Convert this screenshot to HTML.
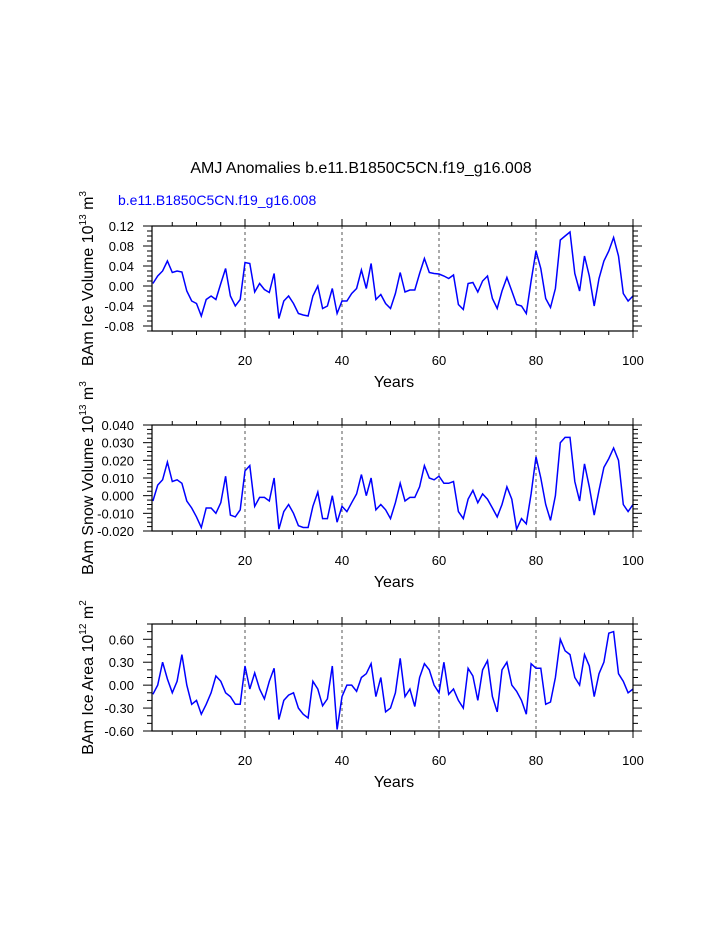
<!DOCTYPE html>
<html><head><meta charset="utf-8"><style>body{margin:0;background:#fff}svg{display:block;font-family:"Liberation Sans",sans-serif}</style></head>
<body>
<svg id="c" width="723" height="935" viewBox="0 0 723 935">
<text x="361" y="173" font-size="16" text-anchor="middle">AMJ Anomalies b.e11.B1850C5CN.f19_g16.008</text>
<text x="118" y="205" font-size="14" fill="#0000ff">b.e11.B1850C5CN.f19_g16.008</text>
</svg>
<script>
const years=[];for(let i=1;i<=100;i++)years.push(i);
const iceVolume=[0.005,0.02,0.03,0.05,0.027,0.03,0.028,-0.01,-0.03,-0.035,-0.06,-0.027,-0.02,-0.027,0.005,0.035,-0.02,-0.04,-0.027,0.047,0.045,-0.012,0.005,-0.007,-0.013,0.025,-0.065,-0.03,-0.02,-0.035,-0.055,-0.058,-0.06,-0.02,0.0,-0.045,-0.04,-0.005,-0.055,-0.03,-0.03,-0.015,-0.005,0.032,-0.005,0.045,-0.027,-0.017,-0.035,-0.045,-0.015,0.027,-0.012,-0.008,-0.008,0.025,0.055,0.027,0.025,0.024,0.02,0.015,0.022,-0.037,-0.047,0.005,0.007,-0.012,0.01,0.02,-0.025,-0.045,-0.01,0.017,-0.01,-0.037,-0.04,-0.055,0.01,0.07,0.035,-0.025,-0.043,-0.005,0.092,0.1,0.108,0.025,-0.01,0.06,0.02,-0.04,0.015,0.05,0.07,0.097,0.06,-0.015,-0.03,-0.02];
const snowVolume=[-0.003,0.006,0.009,0.019,0.008,0.009,0.007,-0.003,-0.007,-0.012,-0.018,-0.007,-0.007,-0.01,-0.004,0.011,-0.011,-0.012,-0.008,0.014,0.017,-0.006,-0.001,-0.001,-0.003,0.01,-0.019,-0.009,-0.005,-0.01,-0.017,-0.018,-0.018,-0.006,0.002,-0.013,-0.013,0.0,-0.015,-0.006,-0.009,-0.004,0.001,0.012,0.0,0.01,-0.008,-0.005,-0.008,-0.013,-0.004,0.007,-0.003,-0.001,-0.001,0.005,0.017,0.01,0.009,0.011,0.007,0.007,0.008,-0.009,-0.013,-0.002,0.003,-0.004,0.001,-0.002,-0.007,-0.012,-0.005,0.005,-0.002,-0.019,-0.013,-0.016,0.001,0.022,0.01,-0.005,-0.014,0.0,0.03,0.033,0.033,0.008,-0.003,0.018,0.005,-0.011,0.003,0.016,0.021,0.027,0.02,-0.005,-0.009,-0.005];
const iceArea=[-0.12,0.0,0.3,0.08,-0.1,0.05,0.4,0.0,-0.25,-0.2,-0.38,-0.25,-0.1,0.12,0.05,-0.1,-0.15,-0.25,-0.25,0.25,-0.05,0.16,-0.05,-0.18,0.05,0.22,-0.45,-0.2,-0.13,-0.1,-0.3,-0.38,-0.43,0.05,-0.05,-0.27,-0.18,0.25,-0.58,-0.15,0.0,0.0,-0.08,0.1,0.15,0.28,-0.15,0.1,-0.35,-0.3,-0.1,0.35,-0.15,-0.05,-0.28,0.1,0.28,0.2,0.0,-0.1,0.3,-0.12,-0.05,-0.2,-0.3,0.22,0.12,-0.2,0.2,0.32,-0.15,-0.35,0.2,0.3,0.0,-0.08,-0.2,-0.38,0.28,0.22,0.22,-0.25,-0.22,0.1,0.6,0.45,0.4,0.1,0.0,0.4,0.25,-0.15,0.15,0.3,0.68,0.7,0.15,0.05,-0.1,-0.05];
const xTicks=[20,40,60,80,100];
const ticks1=["0.12","0.08","0.04","0.00","-0.04","-0.08"];
const ticks2=["0.040","0.030","0.020","0.010","0.000","-0.010","-0.020"];
const ticks3=["0.60","0.30","0.00","-0.30","-0.60"];
const NS='http://www.w3.org/2000/svg',svg=document.getElementById('c');
function mk(t,a,p){const e=document.createElementNS(NS,t);for(const k in a)e.setAttribute(k,a[k]);(p||svg).appendChild(e);return e;}
const X0=152,X1=633;
const xs=v=>245+(v-20)*(388/80);
function panel(id,top,bot,ymin,ymax,vals,tl,major,minor,title,unit,sup1,sup2){
 const g=mk('g',{});
 
 
 const ys=v=>bot-(v-ymin)/(ymax-ymin)*(bot-top);
 for(const t of xTicks){if(t<100){const l=mk('line',{x1:xs(t),x2:xs(t),y1:top,y2:bot,stroke:'#555','stroke-dasharray':'3,3','stroke-width':1},g);}}
 for(let t=5;t<=100;t+=5){const L=t%20==0?7:4;mk('line',{x1:xs(t),x2:xs(t),y1:bot,y2:bot+L,stroke:'#000'},g);mk('line',{x1:xs(t),x2:xs(t),y1:top,y2:top-L,stroke:'#000'},g);}
 for(const t of xTicks){const tx=mk('text',{x:xs(t),y:bot+34,'font-size':13,'text-anchor':'middle'},g);tx.textContent=t;}
 const eps=1e-9;
 for(let v=Math.ceil(ymin/minor-eps)*minor;v<=ymax+eps;v+=minor){const isM=Math.abs(v/major-Math.round(v/major))<1e-6;const L=isM?9:5;mk('line',{x1:X0,x2:X0-L,y1:ys(v),y2:ys(v),stroke:'#000'},g);mk('line',{x1:X1,x2:X1+L,y1:ys(v),y2:ys(v),stroke:'#000'},g);}
 tl.forEach(s=>{const tx=mk('text',{x:X0-18,y:ys(parseFloat(s))+5,'font-size':13,'text-anchor':'end'},g);tx.textContent=s;});
 const d=vals.map((v,i)=>(i?'L':'M')+xs(years[i]).toFixed(1)+','+ys(v).toFixed(1)).join('');
 const p=mk('path',{d:d,fill:'none',stroke:'#0000ff','stroke-width':1.5},g);
 
 const r=mk('rect',{x:X0,y:top,width:X1-X0,height:bot-top,fill:'none',stroke:'#000','stroke-width':1.2},g);
 
 const xt=mk('text',{x:394,y:bot+56,'font-size':16,'text-anchor':'middle'},g);xt.textContent='Years';
 
 const cy=(top+bot)/2;
 const yt=mk('text',{x:0,y:0,'font-size':16,'text-anchor':'middle',transform:`translate(93,${cy}) rotate(-90)`},g);
 
 yt.innerHTML=title+' 10<tspan font-size="10" dy="-7">'+sup1+'</tspan><tspan dy="7"> '+unit+'</tspan><tspan font-size="10" dy="-7">'+sup2+'</tspan>';
}
panel('ice-volume',226,331,-0.09,0.12,iceVolume,ticks1,0.04,0.01,'BAm Ice Volume','m','13','3');
panel('snow-volume',425,531,-0.02,0.04,snowVolume,ticks2,0.01,0.0025,'BAm Snow Volume','m','13','3');
panel('ice-area',624,731,-0.6,0.8,iceArea,ticks3,0.3,0.1,'BAm Ice Area','m','12','2');
</script>
</body></html>
